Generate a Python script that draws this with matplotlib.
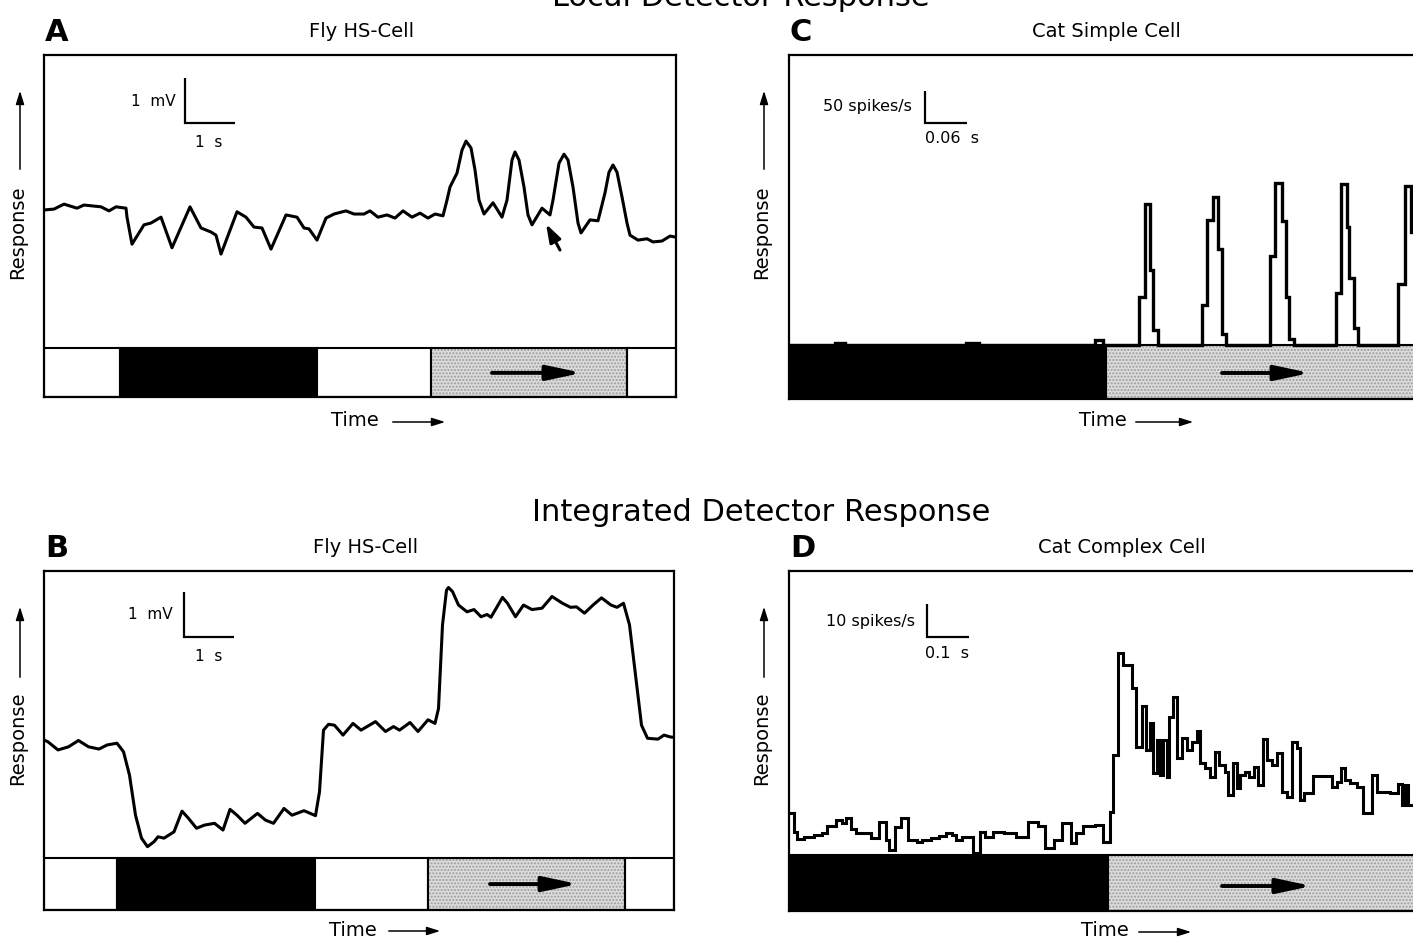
import matplotlib
matplotlib.use("Agg")
import matplotlib.pyplot as plt
from matplotlib.patches import Rectangle, FancyArrowPatch

plt.rcParams['font.family'] = ['DejaVu Sans']
plt.rcParams['hatch.color'] = '#9c9c9c'
plt.rcParams['hatch.linewidth'] = 1.0

# ---------------------------------------------------------------- data
# Panel A: fly HS-cell, local detector (time in s, potential in mV relative to rest)
A_t = [0, 0.20, 0.40, 0.66, 0.80, 1.14, 1.30, 1.44, 1.64, 1.66, 1.76, 2.00, 2.14, 2.34, 2.56,
       2.92, 3.14, 3.34, 3.44, 3.54, 3.86, 4.04, 4.20, 4.36, 4.54, 4.84, 5.06, 5.20, 5.30, 5.46,
       5.64, 5.80, 6.04, 6.20, 6.40, 6.52, 6.68, 6.86, 7.02, 7.18, 7.36, 7.52, 7.68, 7.82, 7.98,
       8.06, 8.12, 8.26, 8.36, 8.44, 8.54, 8.62, 8.70, 8.80, 8.98, 9.16, 9.26, 9.36, 9.42, 9.50,
       9.60, 9.68, 9.76, 9.96, 10.12, 10.18, 10.30, 10.40, 10.48, 10.58, 10.68, 10.74, 10.92,
       11.08, 11.22, 11.30, 11.38, 11.46, 11.56, 11.66, 11.72, 11.88, 12.06, 12.18, 12.36, 12.52, 12.62]
A_v = [0, 0.02, 0.13, 0.04, 0.11, 0.07, -0.02, 0.07, 0.04, -0.16, -0.76, -0.33, -0.29, -0.16, -0.84,
       0.07, -0.40, -0.49, -0.56, -0.98, -0.04, -0.16, -0.38, -0.40, -0.87, -0.11, -0.16, -0.40, -0.42, -0.67,
       -0.18, -0.09, -0.02, -0.09, -0.09, -0.02, -0.16, -0.11, -0.18, -0.02, -0.16, -0.07, -0.18, -0.09, -0.13,
       0.22, 0.51, 0.82, 1.33, 1.53, 1.38, 0.89, 0.22, -0.09, 0.16, -0.16, 0.22, 1.11, 1.29, 1.11,
       0.51, -0.11, -0.33, 0.04, -0.11, 0.22, 1.04, 1.24, 1.11, 0.51, -0.29, -0.51, -0.22,
       -0.24, 0.38, 0.84, 1.00, 0.84, 0.29, -0.29, -0.56, -0.67, -0.64, -0.71, -0.69, -0.58, -0.60]

# Panel B: fly HS-cell, integrated response (time in s, mV relative to rest)
B_t = [0, 0.08, 0.28, 0.49, 0.69, 0.89, 1.10, 1.26, 1.46, 1.59, 1.71, 1.83, 1.95, 2.07, 2.20,
       2.28, 2.40, 2.60, 2.76, 2.89, 3.05, 3.21, 3.41, 3.58, 3.72, 3.86, 4.02, 4.27, 4.43, 4.59,
       4.80, 4.96, 5.20, 5.43, 5.51, 5.59, 5.69, 5.81, 5.98, 6.18, 6.34, 6.63, 6.83, 6.99, 7.11,
       7.32, 7.48, 7.68, 7.82, 7.89, 7.97, 8.05, 8.09, 8.17, 8.29, 8.46, 8.60, 8.74, 8.86, 8.94,
       9.17, 9.27, 9.43, 9.59, 9.76, 9.96, 10.16, 10.37, 10.53, 10.65, 10.81, 10.98, 11.15, 11.34,
       11.46, 11.59, 11.71, 11.83, 11.95, 12.07, 12.28, 12.40, 12.52, 12.60]
B_v = [0.11, 0.07, -0.11, -0.04, 0.10, -0.04, -0.09, 0.00, 0.04, -0.15, -0.67, -1.56, -2.07, -2.26, -2.15,
       -2.04, -2.07, -1.93, -1.47, -1.63, -1.85, -1.78, -1.74, -1.89, -1.43, -1.56, -1.74, -1.52, -1.67, -1.74,
       -1.41, -1.56, -1.46, -1.57, -1.04, 0.33, 0.46, 0.44, 0.22, 0.48, 0.33, 0.52, 0.30, 0.41, 0.33,
       0.50, 0.30, 0.56, 0.48, 0.81, 2.67, 3.44, 3.50, 3.41, 3.11, 2.96, 3.01, 2.85, 2.90, 2.84,
       3.28, 3.15, 2.85, 3.11, 3.01, 3.04, 3.30, 3.15, 3.06, 3.07, 2.93, 3.11, 3.27, 3.11,
       3.06, 3.15, 2.67, 1.56, 0.44, 0.15, 0.13, 0.22, 0.18, 0.17]

# Panel C: cat simple cell PSTH (bin edges in ms, rate in spikes/s)
C_edges = [0, 66, 80, 253, 271, 437, 449, 500, 508.6, 515.7, 520, 527.1,
           589.6, 597.6, 606.1, 613.3, 618.1, 624.3, 687, 694.3, 703.9, 710, 714.7, 721.4,
           781.4, 788.1, 796.7, 800, 807.6, 813.3, 870.5, 880, 888.1, 900]
C_rate = [0, 3, 0, 3, 0, 8, 0, 75, 220, 117, 23, 0,
          62.5, 195, 231, 150, 17, 0, 139, 253, 193, 75, 10, 0,
          81, 252, 185, 104, 26, 0, 96, 248, 177]

# Panel D: cat complex cell PSTH (bin starts in ms, rate in spikes/s)
D_bin_start = [0, 11.9, 19.8, 35.7, 59.5, 79.4, 91.3, 111.1, 127, 134.9,
               146.8, 158.7, 194.4, 214.3, 230.2, 238.1, 252.4, 265.9, 284.1, 305.6,
               317.5, 337.3, 357.1, 373, 388.9, 396.8, 412.7, 438.9, 454, 466.7,
               485.7, 511.9, 539.7, 569.8, 593.7, 609.5, 631, 650.8, 670.6, 682.5,
               700.8, 728.6, 746.8, 764.3, 772.2, 784.1, 796.1, 815.9, 826.2, 839.7,
               850, 859.5, 867.5, 875.4, 883.4, 891.3, 899.2, 905.6, 915.1, 924.6,
               935, 948.4, 958.8, 970.7, 978.6, 990.5, 1002.4, 1014.3, 1024.6, 1038.1,
               1046, 1058, 1065.9, 1073.8, 1085.7, 1096.1, 1107.2, 1117.5, 1129.4, 1137.3,
               1149.2, 1161.1, 1173, 1184.9, 1196.8, 1208.7, 1216.7, 1226.2, 1248.4, 1292.1,
               1305.6, 1313.5, 1323.8, 1335.7, 1351.6, 1367.5, 1387.3, 1399.2, 1431, 1450.8,
               1458.7, 1466.7, 1474.6]
D_rate = [12.6, 7.1, 4.7, 5.6, 6.1, 6.6, 8.8, 10.6, 9.8, 11.1,
          7.8, 6.8, 5.1, 10.1, 4.5, 1.5, 8.6, 11.1, 4.5, 4.0,
          4.5, 5.1, 5.8, 6.6, 6.1, 4.5, 5.6, 0.5, 7.1, 5.6,
          7.1, 6.6, 5.4, 10.1, 8.8, 2.0, 4.5, 9.6, 3.5, 6.6,
          8.8, 9.1, 4.0, 13.1, 30.3, 61.1, 57.6, 50.5, 32.8, 45.2,
          31.8, 39.9, 24.8, 34.8, 24.2, 34.8, 23.7, 41.9, 47.8, 29.3,
          35.4, 31.8, 34.3, 37.7, 27.8, 26.3, 23.7, 31.3, 27.3, 25.3,
          18.2, 28.0, 20.2, 24.2, 25.3, 23.7, 26.8, 21.2, 35.1, 28.8,
          27.3, 31.0, 19.2, 17.7, 34.3, 32.3, 16.7, 18.7, 23.9, 20.7,
          22.2, 26.3, 22.7, 21.7, 20.7, 12.6, 24.2, 19.2, 18.7, 21.5,
          15.2, 21.2, 15.2]
D_end = 1500

# stimulus epochs
A_stim_edges = [0, 1.52, 5.46, 7.74, 11.66, 12.64]
B_stim_edges = [0, 1.46, 5.42, 7.68, 11.62, 12.60]
fly_stim_kinds = ['blank', 'dark', 'blank', 'moving', 'blank']
C_stim_edges = [0, 453, 900]
D_stim_edges = [0, 759.5, 1500]
cat_stim_kinds = ['dark', 'moving']

# ---------------------------------------------------------------- figure
FIG_W, FIG_H = 1413, 940
fig = plt.figure(figsize=(FIG_W / 100, FIG_H / 100), dpi=100)


def fx(px):
    return px / FIG_W


def fy(py):
    return 1 - py / FIG_H


def panel_axes(left, top, right, bottom, xlim, ylim):
    ax = fig.add_axes([fx(left), fy(bottom), (right - left) / FIG_W, (bottom - top) / FIG_H])
    ax.set_xticks([])
    ax.set_yticks([])
    ax.set_xlim(*xlim)
    ax.set_ylim(*ylim)
    for sp in ax.spines.values():
        sp.set_linewidth(1.6)
    return ax


def draw_stimulus(ax, edges, kinds, y0, y1, arrow_from, arrow_to, arrow_y):
    for a, b, kind in zip(edges[:-1], edges[1:], kinds):
        if kind == 'dark':
            ax.add_patch(Rectangle((a, y0), b - a, y1 - y0, facecolor='black',
                                   edgecolor='black', lw=1.5, zorder=1))
        elif kind == 'blank':
            ax.add_patch(Rectangle((a, y0), b - a, y1 - y0, facecolor='white',
                                   edgecolor='black', lw=1.5, zorder=1))
        else:
            ax.add_patch(Rectangle((a, y0), b - a, y1 - y0, facecolor='#dcdcdc',
                                   hatch='.....', lw=0, zorder=1))
            ax.add_patch(Rectangle((a, y0), b - a, y1 - y0, facecolor='none',
                                   edgecolor='black', lw=1.5, zorder=1.5))
    ax.annotate('', xy=(arrow_to, arrow_y), xytext=(arrow_from, arrow_y),
                arrowprops=dict(arrowstyle='-|>,head_length=1.5,head_width=0.32', lw=2.8,
                                color='black', shrinkA=0, shrinkB=0, mutation_scale=14),
                zorder=3)


def scale_bar(ax, x0, y0, dx, dy):
    ax.plot([x0, x0, x0 + dx], [y0 + dy, y0, y0], color='black', lw=1.6,
            solid_joinstyle='miter', solid_capstyle='butt', zorder=4)


def response_label(x, y_text, y_bottom, y_top):
    fig.text(fx(x), fy(y_text), 'Response', rotation=90, ha='center', va='center', fontsize=14)
    fig.add_artist(FancyArrowPatch((fx(x + 2), fy(y_bottom)), (fx(x + 2), fy(y_top)),
                                   transform=fig.transFigure,
                                   arrowstyle='-|>,head_length=0.8,head_width=0.25',
                                   mutation_scale=10, lw=1.1, color='black'))


def time_label(x_text, y, x_start, x_end):
    fig.text(fx(x_text), fy(y), 'Time', ha='center', va='center', fontsize=14)
    fig.add_artist(FancyArrowPatch((fx(x_start), fy(y + 1)), (fx(x_end), fy(y + 1)),
                                   transform=fig.transFigure,
                                   arrowstyle='-|>,head_length=0.8,head_width=0.25',
                                   mutation_scale=10, lw=1.1, color='black'))


# ---- Panel A
axA = panel_axes(44, 55, 676, 397, (0, 12.64), (-4.156, 3.444))
draw_stimulus(axA, A_stim_edges, fly_stim_kinds, -4.156, -3.067, 8.96, 10.76, -3.62)
axA.plot(A_t, A_v, color='black', lw=2.2, solid_joinstyle='round', zorder=2)
scale_bar(axA, 2.83, 1.93, 1.0, 1.0)
axA.text(2.64, 2.42, '1  mV', ha='right', va='center', fontsize=11)
axA.text(3.30, 1.49, '1  s', ha='center', va='center', fontsize=11)
axA.annotate('', xy=(10.04, -0.31), xytext=(10.32, -0.89),
             arrowprops=dict(arrowstyle='-|>,head_length=0.9,head_width=0.3', lw=2.2,
                             color='black', shrinkA=0, shrinkB=0, mutation_scale=12))

# ---- Panel B
axB = panel_axes(44, 571, 674, 910, (0, 12.60), (-3.667, 3.867))
draw_stimulus(axB, B_stim_edges, fly_stim_kinds, -3.667, -2.511, 8.92, 10.68, -3.09)
axB.plot(B_t, B_v, color='black', lw=2.2, solid_joinstyle='round', zorder=2)
scale_bar(axB, 2.80, 2.40, 1.0, 1.0)
axB.text(2.58, 2.89, '1  mV', ha='right', va='center', fontsize=11)
axB.text(3.30, 1.96, '1  s', ha='center', va='center', fontsize=11)

# ---- Panel C
axC = panel_axes(789, 55, 1419, 399, (0, 900), (-84.4, 453.1))
draw_stimulus(axC, C_stim_edges, cat_stim_kinds, -84.4, 0, 618.6, 744.3, -43.75)
axC.stairs(C_rate, C_edges, baseline=None, color='black', lw=2.4, zorder=2)
scale_bar(axC, 194, 347, 60, 50)
axC.text(176, 373, '50 spikes/s', ha='right', va='center', fontsize=11.5)
axC.text(194, 322, '0.06  s', ha='left', va='center', fontsize=11.5)

# ---- Panel D
axD = panel_axes(789, 571, 1419, 911, (0, 1500), (-16.97, 86.06))
draw_stimulus(axD, D_stim_edges, cat_stim_kinds, -16.97, 0, 1031, 1245, -9.4)
axD.stairs(D_rate, list(D_bin_start) + [D_end], baseline=None, color='black', lw=2.2, zorder=2)
scale_bar(axD, 328.6, 66.1, 100, 10)
axD.text(300, 70.9, '10 spikes/s', ha='right', va='center', fontsize=11.5)
axD.text(323.8, 61.2, '0.1  s', ha='left', va='center', fontsize=11.5)

# ---- titles and labels
fig.text(fx(741), fy(6), 'Local Detector Response', ha='center', va='baseline', fontsize=22)
fig.text(fx(761), fy(521), 'Integrated Detector Response', ha='center', va='baseline', fontsize=22)

for letter, x, y in [('A', 45, 41), ('C', 790, 41), ('B', 45, 557), ('D', 790, 557)]:
    fig.text(fx(x), fy(y), letter, ha='left', va='baseline', fontsize=22, fontweight='bold')

fig.text(fx(362), fy(37), 'Fly HS-Cell', ha='center', va='baseline', fontsize=14)
fig.text(fx(1106), fy(37), 'Cat Simple Cell', ha='center', va='baseline', fontsize=14)
fig.text(fx(366), fy(553), 'Fly HS-Cell', ha='center', va='baseline', fontsize=14)
fig.text(fx(1122), fy(553), 'Cat Complex Cell', ha='center', va='baseline', fontsize=14)

response_label(18, 232, 172, 88)
response_label(762, 232, 172, 88)
response_label(18, 738, 680, 604)
response_label(762, 738, 680, 604)

time_label(355, 421, 390, 448)
time_label(1103, 421, 1133, 1196)
time_label(353, 930, 386, 443)
time_label(1105, 931, 1136, 1194)

fig.savefig('out.png', dpi=100)
